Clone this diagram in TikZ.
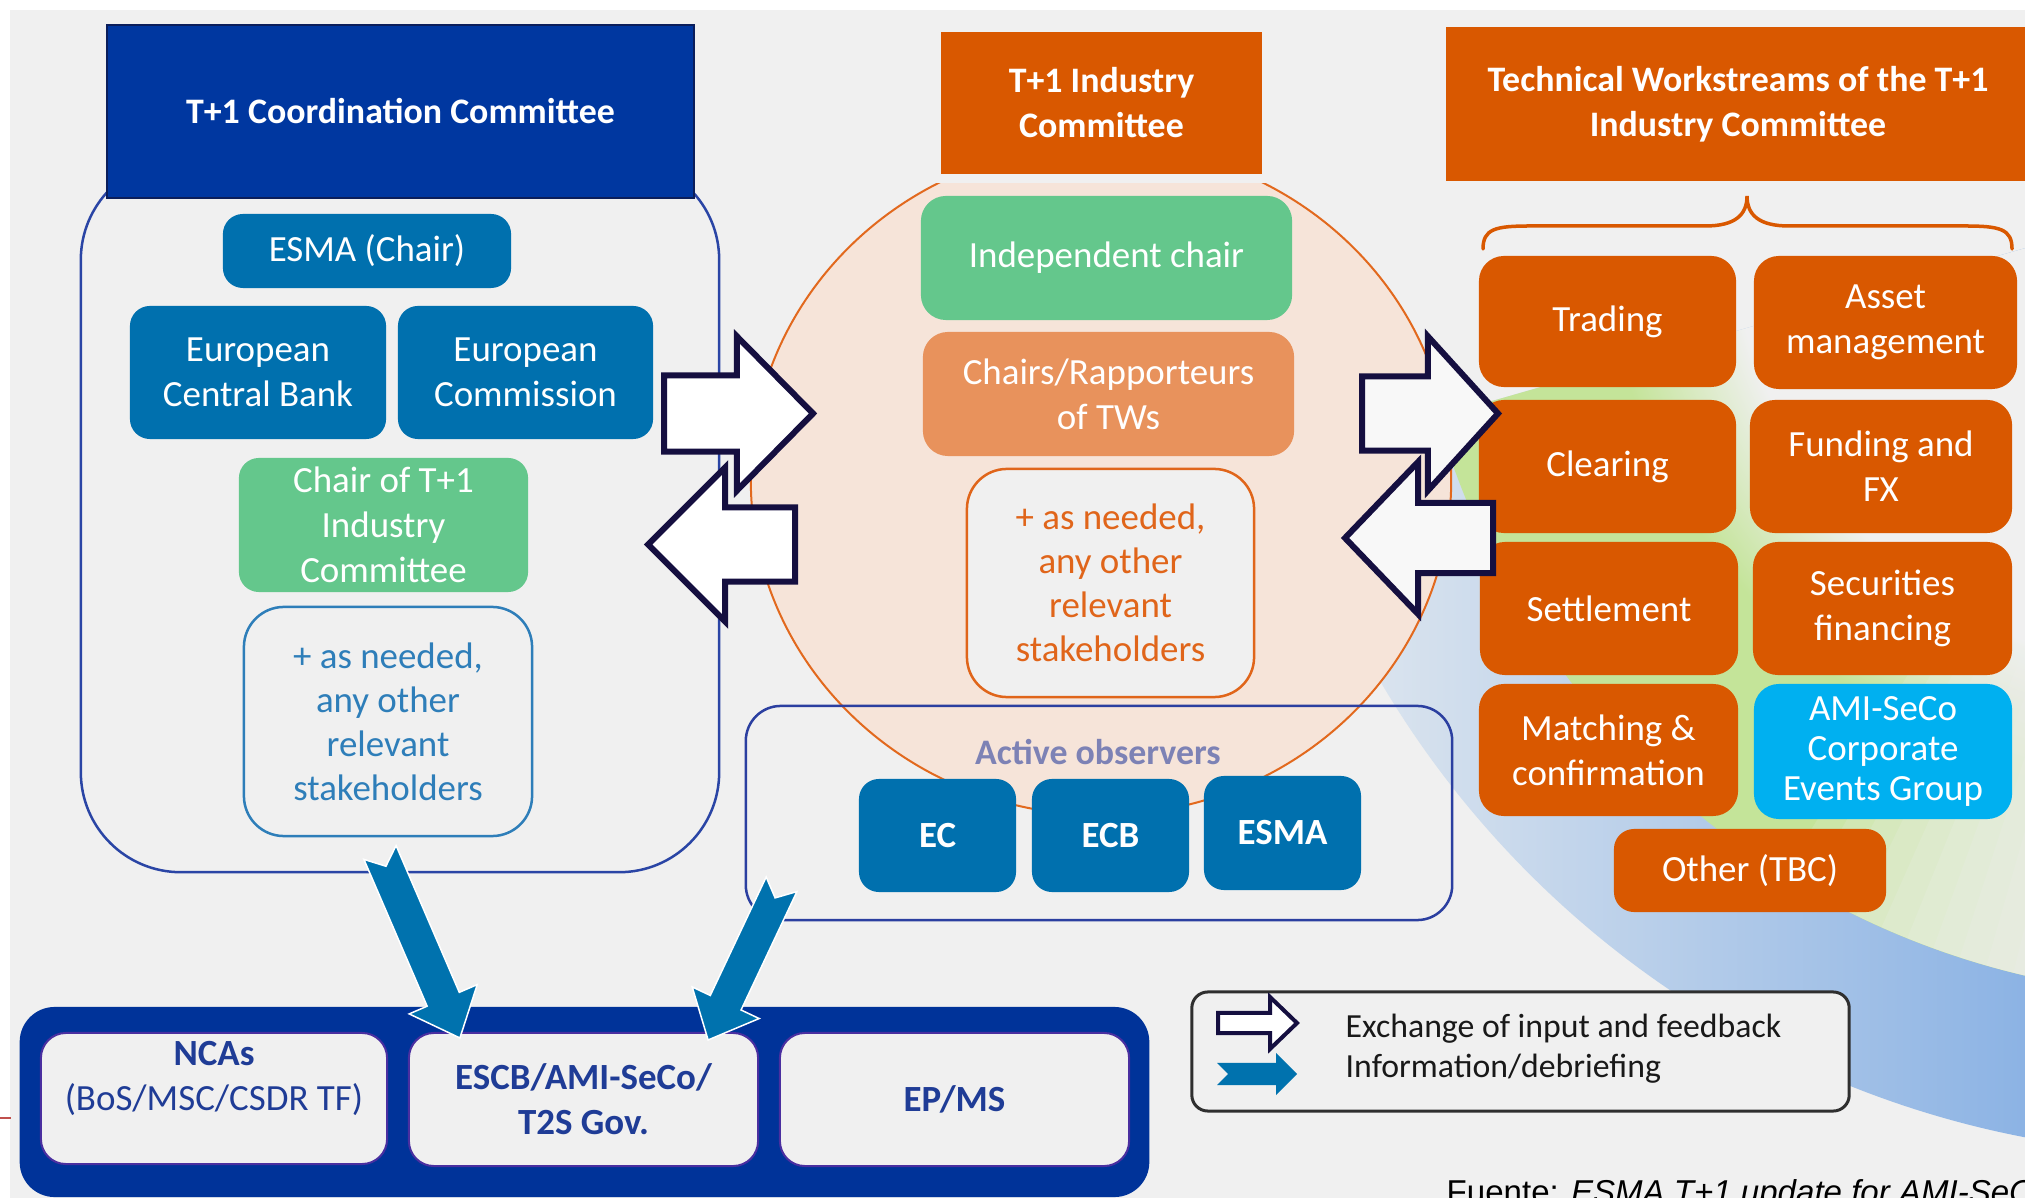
\documentclass[tikz,border=0pt]{standalone}
\usepackage{fontspec}
\setmainfont{Carlito}
\newfontfamily\sourcefont{Liberation Sans}
\usetikzlibrary{calc}

\definecolor{bgc}{HTML}{F0F0F0}
\definecolor{ccnavy}{HTML}{0037A0}
\definecolor{ccedge}{HTML}{0B1E5B}
\definecolor{ccline}{HTML}{2A45A5}
\definecolor{esmablue}{HTML}{0070AE}
\definecolor{chairgreen}{HTML}{64C78C}
\definecolor{rapporange}{HTML}{E8925C}
\definecolor{wsorange}{HTML}{D95800}
\definecolor{peach}{HTML}{F6E4D9}
\definecolor{circleorange}{HTML}{E2691E}
\definecolor{cyanbox}{HTML}{00B0F0}
\definecolor{arrnavy}{HTML}{150F40}
\definecolor{extrablue}{HTML}{2E7EB9}
\definecolor{extraorange}{HTML}{E0651A}
\definecolor{obsline}{HTML}{2B3FA0}
\definecolor{obstext}{HTML}{7D82B5}
\definecolor{govnavy}{HTML}{003399}
\definecolor{govedge}{HTML}{4A2FA0}
\definecolor{govtext}{HTML}{1F3C96}
\definecolor{legendedge}{HTML}{2F2F2F}
\definecolor{infoblue}{HTML}{0072AE}
\definecolor{ringgreen}{HTML}{C4E499}
\definecolor{ringpale}{HTML}{E9EDF0}
\definecolor{ringmid}{HTML}{9CC6EC}
\definecolor{ringblue}{HTML}{6C9FE0}
\definecolor{tickred}{HTML}{C0504D}

% the path's box spans 25bp..75bp of the shading
\pgfdeclareradialshading{ringfade}{\pgfpoint{0bp}{0bp}}{%
  color(0bp)=(bgc); color(15bp)=(bgc); color(19bp)=(ringgreen); color(25bp)=(ringgreen); color(50bp)=(ringgreen)}

% block arrow: style, tail, tip, half shaft, half head, head length, notch
\newcommand\blockarrow[7]{%
  \path[#1] let \p1=($(#3)-(#2)$), \n1={atan2(\y1,\x1)}, \n2={veclen(\x1,\y1)-#6} in
    ([shift={(\n1+90:#4)}]#2)
    -- ([shift={(\n1:\n2)},shift={(\n1+90:#4)}]#2)
    -- ([shift={(\n1:\n2)},shift={(\n1+90:#5)}]#2)
    -- (#3)
    -- ([shift={(\n1:\n2)},shift={(\n1-90:#5)}]#2)
    -- ([shift={(\n1:\n2)},shift={(\n1-90:#4)}]#2)
    -- ([shift={(\n1-90:#4)}]#2)
    -- ([shift={(\n1:#7)}]#2) -- cycle;}

\begin{document}
\begin{tikzpicture}[x=0.01cm, y=-0.01cm]
\tikzset{
  head/.style={fill=#1, text=white, align=center, inner sep=0pt,
    font=\bfseries\fontsize{10.2}{12.8}\selectfont},
  tile/.style={fill=#1, text=white, align=center, inner sep=0pt,
    rounded corners=0.2cm, font=\fontsize{10.5}{12.8}\selectfont},
  tile bold/.style={tile=#1, font=\bfseries\fontsize{10.5}{12.8}\selectfont},
  boxsize/.style 2 args={minimum width=#1cm, minimum height=#2cm},
  extra/.style={draw=#1, text=#1, fill=bgc, line width=0.025cm,
    rounded corners=0.4cm, align=center, inner sep=0pt,
    font=\fontsize{10.5}{12.5}\selectfont},
  gov/.style={fill=bgc, draw=govedge, line width=0.02cm, rounded corners=0.25cm,
    text=govtext, align=center, inner sep=0pt, font=\fontsize{10.5}{12.8}\selectfont},
  gov bold/.style={gov, font=\bfseries\fontsize{10.5}{12.8}\selectfont},
  exchange arrow/.style={fill=#1, draw=arrnavy, line width=0.06cm, line join=miter},
  info arrow/.style={fill=infoblue, draw=white, line width=0.015cm, line join=miter},
  key text/.style={anchor=west, inner sep=0pt, text=black!90,
    font=\fontsize{9.6}{11}\selectfont},
}
\useasboundingbox (0,0) rectangle (2025,1198);
\fill[white] (0,0) rectangle (2025,1198);
\fill[bgc] (10,10) rectangle (2025,1198);

% ring behind the workstreams
\coordinate (rc) at (2207,196);
\begin{scope}
  \clip (rc) -- ([shift={(196:10cm)}]rc) arc[start angle=196, end angle=276, radius=10cm] -- cycle;
  \begin{scope}
    \clip (rc) circle (9.58cm);
    \shade[left color=ringpale, middle color=ringmid, right color=ringblue]
      (1249,150) rectangle (2290,1200);
  \end{scope}
  \shade[shading=ringfade] (rc) circle (8cm);
  % green dies out towards the lower end
  \foreach \a in {238,240,...,260}
    \fill[bgc, fill opacity=0.17] (rc) -- ([shift={(\a:8cm)}]rc) arc[start angle=\a, end angle=276, radius=8cm] -- cycle;
  \fill[bgc] (rc) -- ([shift={(262:8cm)}]rc) arc[start angle=262, end angle=276, radius=8cm] -- cycle;
\end{scope}

% coordination committee
\node[draw=ccline, line width=0.025cm, rounded corners=1cm, boxsize={6.38}{7.12}] (ccbox) at (400,516) {};
\node[head=ccnavy, draw=ccedge, line width=0.02cm, boxsize={5.87}{1.73}] (cctitle) at (400.5,111.5) {T+1 Coordination Committee};
\node[tile=esmablue, boxsize={2.88}{0.74}] (ccesma) at (367,251) {ESMA (Chair)};
\node[tile=esmablue, boxsize={2.56}{1.33}] (ccecb) at (258,372.5) {European\\Central Bank};
\node[tile=esmablue, boxsize={2.55}{1.33}] (ccec) at (525.5,372.5) {European\\Commission};
\node[tile=chairgreen, boxsize={2.89}{1.34}] (ccchair) at (383.5,525) {Chair of T+1\\Industry\\Committee};
\node[extra=extrablue, boxsize={2.88}{2.29}] (ccextra) at (388,721.5) {+ as needed,\\any other\\relevant\\stakeholders};

% industry committee
\coordinate (icc) at (1101,480);
\draw[circleorange, fill=peach, line width=0.02cm] (icc) ellipse [x radius=3.5cm, y radius=3.35cm];
\fill[bgc] (931,21) rectangle (1272,183);
\node[head=wsorange, boxsize={3.21}{1.42}] (ictitle) at (1101.5,103) {T+1 Industry\\Committee};
\node[tile=chairgreen, rounded corners=0.25cm, boxsize={3.71}{1.24}] (icchair) at (1106.5,258) {Independent chair};
\node[tile=rapporange, rounded corners=0.25cm, boxsize={3.71}{1.24}] (icrapp) at (1108.5,394) {Chairs/Rapporteurs\\of TWs};
\node[extra=extraorange, boxsize={2.87}{2.28}] (icextra) at (1110.5,583) {+ as needed,\\any other\\relevant\\stakeholders};

\node[draw=obsline, line width=0.025cm, rounded corners=0.35cm, boxsize={7.06}{2.14}] (obsbox) at (1099,813) {};
\node[text=obstext, inner sep=0pt, font=\bfseries\fontsize{10.2}{12}\selectfont] (obslabel) at (1098,752) {Active observers};
\node[tile bold=esmablue, boxsize={1.57}{1.13}] (obsec) at (937.5,835.5) {EC};
\node[tile bold=esmablue, boxsize={1.57}{1.13}] (obsecb) at (1110.5,835.5) {ECB};
\node[tile bold=esmablue, boxsize={1.57}{1.14}] (obsesma) at (1282.5,833) {ESMA};

% technical workstreams
\node[head=wsorange, boxsize={5.84}{1.53}] (twtitle) at (1738,104) {Technical Workstreams of the T+1\\Industry Committee};
\draw[wsorange, line width=0.035cm, line cap=round]
  (1483,249) .. controls (1483,229) and (1495,226) .. (1530,226) -- (1705,226)
  .. controls (1735,226) and (1747,215) .. (1747,196)
  .. controls (1747,215) and (1759,226) .. (1789,226) -- (1965,226)
  .. controls (2000,226) and (2012,229) .. (2012,249);
\node[tile=wsorange, rounded corners=0.25cm, boxsize={2.57}{1.31}] (twtrade) at (1607.5,321.5) {Trading};
\node[tile=wsorange, rounded corners=0.25cm, boxsize={2.63}{1.33}] (twasset) at (1885.5,322.5) {Asset\\management};
\node[tile=wsorange, rounded corners=0.25cm, boxsize={2.57}{1.33}] (twclear) at (1607.5,466.5) {Clearing};
\node[tile=wsorange, rounded corners=0.25cm, boxsize={2.62}{1.33}] (twfund) at (1881,466.5) {Funding and\\FX};
\node[tile=wsorange, rounded corners=0.25cm, boxsize={2.58}{1.33}] (twsettle) at (1609,608.5) {Settlement};
\node[tile=wsorange, rounded corners=0.25cm, boxsize={2.59}{1.33}] (twsecfin) at (1882.5,608.5) {Securities\\financing};
\node[tile=wsorange, rounded corners=0.25cm, boxsize={2.59}{1.32}] (twmatch) at (1608.5,750) {Matching \&\\confirmation};
\node[tile=cyanbox, rounded corners=0.25cm, boxsize={2.58}{1.35}, font=\fontsize{10.5}{11.4}\selectfont] (twcorp) at (1883,751.5) {AMI-SeCo\\Corporate\\Events Group};
\node[tile=wsorange, rounded corners=0.2cm, boxsize={2.72}{0.83}] (twother) at (1750,870.5) {Other (TBC)};

% exchange of input and feedback
\coordinate (exAtail) at (664,413.5);
\coordinate (exAtip) at (813,413.5);
\coordinate (exBtail) at (795,544.5);
\coordinate (exBtip) at (648,544.5);
\coordinate (exCtail) at (1362,413.5);
\coordinate (exCtip) at (1498,413.5);
\coordinate (exDtail) at (1493,538);
\coordinate (exDtip) at (1345,538);
\blockarrow{exchange arrow=white}{exAtail}{exAtip}{0.38cm}{0.77cm}{0.76cm}{0cm}
\blockarrow{exchange arrow=white}{exBtail}{exBtip}{0.37cm}{0.77cm}{0.77cm}{0cm}
\blockarrow{exchange arrow=bgc!50!white}{exCtail}{exCtip}{0.37cm}{0.77cm}{0.70cm}{0cm}
\blockarrow{exchange arrow=bgc!50!white}{exDtail}{exDtip}{0.35cm}{0.76cm}{0.73cm}{0cm}

% governance bodies
\node[fill=govnavy, rounded corners=0.35cm, boxsize={11.29}{1.90}] (govbox) at (584.5,1102) {};
\node[gov, boxsize={3.46}{1.31}] (govnca) at (214,1098.5) {\textbf{NCAs}\\(BoS/MSC/CSDR TF)\\\mbox{}};
\node[gov bold, boxsize={3.49}{1.33}] (govescb) at (583.5,1099.5) {ESCB/AMI-SeCo/\\T2S Gov.};
\node[gov bold, boxsize={3.49}{1.33}] (govep) at (954.5,1099.5) {EP/MS};

\coordinate (infoAtail) at ($(ccbox.south)+(-20,-21)$);
\coordinate (infoAtip) at ($(govescb.north west)+(52,6)$);
\coordinate (infoBtail) at ($(obsbox.south west)+(37,-37)$);
\coordinate (infoBtip) at ($(govescb.north east)+(-51,8)$);
\blockarrow{info arrow}{infoAtail}{infoAtip}{0.175cm}{0.37cm}{0.42cm}{0.15cm}
\blockarrow{info arrow}{infoBtail}{infoBtip}{0.17cm}{0.37cm}{0.41cm}{0.15cm}

% legend
\node[fill=bgc, draw=legendedge, line width=0.03cm, rounded corners=0.16cm, boxsize={6.57}{1.19}] (legend) at (1520.5,1051.5) {};
\coordinate (keyAtail) at (1218,1023);
\coordinate (keyAtip) at (1297,1023);
\coordinate (keyBtail) at (1217,1074);
\coordinate (keyBtip) at (1297,1074);
\blockarrow{exchange arrow=white, line width=0.04cm}{keyAtail}{keyAtip}{0.1cm}{0.26cm}{0.27cm}{0cm}
\blockarrow{info arrow, draw=none}{keyBtail}{keyBtip}{0.11cm}{0.21cm}{0.21cm}{0.11cm}
\node[key text] (keyAtext) at (1345,1029) {Exchange of input and feedback};
\node[key text] (keyBtext) at (1345,1069) {Information/debriefing};

\node[anchor=base west, inner sep=0pt, font=\sourcefont\fontsize{9.4}{11}\selectfont] (source) at (1446,1203) {Fuente: \textit{ESMA T+1 update for AMI-SeCo}};
\draw[tickred, line width=0.02cm] (0,1118) -- (11,1118);
\end{tikzpicture}
\end{document}
